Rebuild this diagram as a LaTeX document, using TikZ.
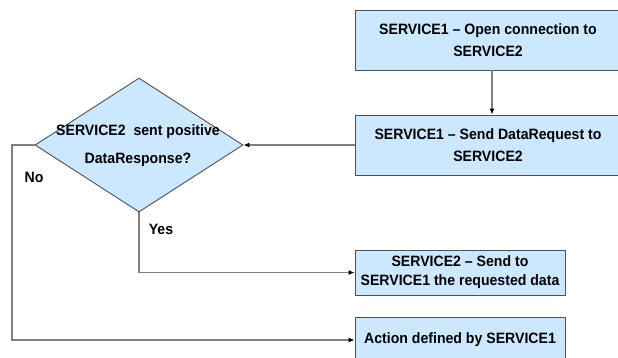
\documentclass[tikz,border=0pt]{standalone}
\usepackage{fontspec}
\setmainfont{Liberation Sans}[FakeStretch=0.94]
\usetikzlibrary{shapes.geometric,arrows.meta}
\definecolor{boxfill}{HTML}{CCE8FF}
\definecolor{boxline}{HTML}{505050}
\definecolor{wire}{HTML}{808080}
\tikzset{
  px/.style={x=1pt,y=-1pt},
  stepbox/.style={draw=boxline,fill=boxfill,line width=0.9pt,inner sep=0pt,
    align=center,font=\bfseries\fontsize{15}{21.5}\selectfont},
  decision/.style={diamond,draw=boxline,fill=boxfill,line width=0.9pt,inner sep=0pt,
    minimum width=208pt,minimum height=134pt},
  lbl/.style={font=\bfseries\fontsize{15}{16}\selectfont,inner sep=0pt},
  wireline/.style={draw=wire,line width=1.1pt},
  flow/.style={wireline,-{Latex[length=6pt,width=5pt,color=black]}},
}
\begin{document}
\begin{tikzpicture}[px]
\useasboundingbox (0,0) rectangle (618,357);
\clip (0,0) rectangle (618,357);
\fill[white] (0,0) rectangle (618,357);
% process boxes
\node[stepbox,minimum width=266pt,minimum height=60pt] (open) at (488,40)
  {SERVICE1 -- Open connection to\\SERVICE2};
\node[stepbox,minimum width=266pt,minimum height=60pt] (req) at (488,145)
  {SERVICE1 -- Send DataRequest to\\SERVICE2};
\node[stepbox,minimum width=210pt,minimum height=45pt,font=\bfseries\fontsize{15}{19}\selectfont] (send) at (460,272.5)
  {SERVICE2 -- Send to\\SERVICE1 the requested data};
\node[stepbox,minimum width=210pt,minimum height=46pt] (act) at (460,340)
  {Action defined by SERVICE1};
% decision
\node[decision] (dec) at (139,145) {};
\node[lbl,align=center,font=\bfseries\fontsize{15}{28}\selectfont] (dectext) at (138,146)
  {SERVICE2\ \ sent positive\\DataResponse?};
% connectors
\coordinate (nocorner) at (12,145);
\draw[flow] (open.south -| 492,0) -- (req.north -| 492,0);
\draw[flow] (req.west) -- (dec.east);
\draw[flow] (dec.south) |- (send.west);
\draw[flow] (dec.west) -- (nocorner) |- (act.west);
% branch labels
\node[lbl] (no) at (34,177) {No};
\node[lbl] (yes) at (161,229) {Yes};
\end{tikzpicture}
\end{document}
